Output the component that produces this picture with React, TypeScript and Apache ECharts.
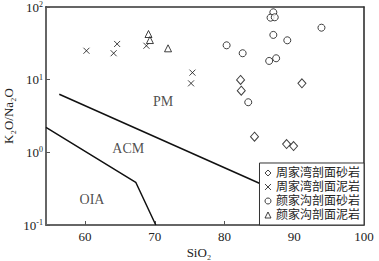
import React, { useEffect, useRef } from "react";
import * as echarts from "echarts";

// SiO2 (wt%) vs K2O/Na2O
const zhouSandstone: [number, number][] = [
  [82.3, 9.9], [82.4, 7.05], [91.1, 8.9], [84.3, 1.64], [88.9, 1.3], [89.9, 1.22],
];
const zhouMudstone: [number, number][] = [
  [60.2, 25.0], [64.1, 23.1], [64.6, 31.0], [68.8, 29.3], [75.4, 12.5], [75.2, 8.9],
];
const yanSandstone: [number, number][] = [
  [87.0, 84.6], [86.6, 71.3], [87.2, 72.2], [93.9, 51.9], [87.0, 41.3], [89.0, 34.8],
  [80.3, 29.7], [82.6, 23.1], [86.4, 18.1], [87.4, 19.7], [83.4, 4.89],
];
const yanMudstone: [number, number][] = [
  [69.1, 42.5], [69.3, 35.1], [71.9, 27.0],
];

const seriesNames = ["周家湾剖面砂岩", "周家湾剖面泥岩", "颜家沟剖面砂岩", "颜家沟剖面泥岩"];

// field boundaries
const boundaryPMACM: [number, number][] = [[56.3, 6.29], [85.8, 0.347]];
const boundaryACMOIA: [number, number][] = [[54.4, 2.2], [67.27, 0.387], [70.14, 0.1]];

// field names
const zoneNames = ["PM", "ACM", "OIA"];
const zoneX = [71.2, 66.2, 61.0];
const zoneY = [4.93, 1.147, 0.221];

const xTicks = [60, 70, 80, 90, 100];

const SERIF = "'Liberation Serif', 'Times New Roman', 'DejaVu Serif', serif";
const CJK = "'Liberation Serif', 'Noto Sans CJK SC', serif";

export default function App() {
  const ref = useRef<HTMLDivElement>(null);
  useEffect(() => {
    if (!ref.current) return;
    const chart = echarts.init(ref.current, undefined, { renderer: "svg" });
    const markerStyle = { color: "#fff", borderColor: "#111", borderWidth: 1 };
    chart.setOption({
      animation: false,
      backgroundColor: "#fff",
      grid: { left: 46, right: 15, top: 7, bottom: 36, outerBoundsMode: "none", containLabel: false },
      xAxis: [
        {
          type: "value",
          min: 54.4,
          max: 100,
          position: "bottom",
          name: "SiO₂",
          nameLocation: "middle",
          nameGap: 21,
          nameMoveOverlap: false,
          nameTextStyle: { fontFamily: SERIF, fontSize: 13, color: "#222", padding: [0, 12, 0, 0] },
          axisLine: { show: true, lineStyle: { color: "#666", width: 2 } },
          axisTick: { show: true, inside: true, length: 4, lineStyle: { color: "#555" }, customValues: xTicks },
          axisLabel: { fontFamily: SERIF, fontSize: 13, color: "#222", margin: 5, customValues: xTicks },
          splitLine: { show: false },
        },
        {
          type: "value",
          min: 54.4,
          max: 100,
          position: "top",
          axisLine: { show: true, lineStyle: { color: "#333", width: 1.5 } },
          axisTick: { show: false },
          axisLabel: { show: false },
          splitLine: { show: false },
        },
      ],
      yAxis: [
        {
          type: "log",
          logBase: 10,
          min: 0.1,
          max: 100,
          position: "left",
          name: "K₂O/Na₂O",
          nameLocation: "middle",
          nameRotate: 90,
          nameGap: 31,
          nameMoveOverlap: false,
          nameTextStyle: { fontFamily: SERIF, fontSize: 13, color: "#222" },
          axisLine: { show: true, lineStyle: { color: "#666", width: 2 } },
          axisTick: { show: true, inside: true, length: 4, lineStyle: { color: "#555" } },
          axisLabel: {
            margin: 3,
            formatter: (v: number) => `{b|10}{s|${Math.round(Math.log10(v))}}`,
            rich: {
              b: { fontFamily: SERIF, fontSize: 13, color: "#222" },
              s: { fontFamily: SERIF, fontSize: 8, color: "#222", verticalAlign: "top" },
            },
          },
          splitLine: { show: false },
          minorTick: { show: false },
        },
        {
          type: "log",
          logBase: 10,
          min: 0.1,
          max: 100,
          position: "right",
          axisLine: { show: true, lineStyle: { color: "#222", width: 1.5 } },
          axisTick: { show: false },
          axisLabel: { show: false },
          splitLine: { show: false },
        },
      ],
      legend: {
        data: seriesNames,
        orient: "vertical",
        right: 15,
        bottom: 36,
        padding: [4, 4, 4, 5],
        itemWidth: 6,
        itemHeight: 6,
        itemGap: 2,
        itemStyle: { borderWidth: 1 },
        backgroundColor: "#fff",
        borderColor: "#333",
        borderWidth: 1,
        textStyle: { fontFamily: CJK, fontSize: 12, lineHeight: 12, color: "#222" },
      },
      series: [
        {
          name: seriesNames[0],
          type: "scatter",
          symbol: "diamond",
          symbolSize: [8, 9],
          itemStyle: markerStyle,
          data: zhouSandstone,
          z: 5,
        },
        {
          name: seriesNames[1],
          type: "scatter",
          symbol: "path://M0,0L10,10M10,0L0,10",
          symbolSize: 6,
          itemStyle: { color: "#111", borderColor: "#111", borderWidth: 1 },
          data: zhouMudstone,
          z: 5,
        },
        {
          name: seriesNames[2],
          type: "scatter",
          symbol: "circle",
          symbolSize: 7,
          itemStyle: markerStyle,
          data: yanSandstone,
          z: 5,
        },
        {
          name: seriesNames[3],
          type: "scatter",
          symbol: "triangle",
          symbolSize: 7,
          itemStyle: markerStyle,
          data: yanMudstone,
          z: 5,
        },
        {
          type: "line",
          data: boundaryPMACM,
          symbol: "none",
          lineStyle: { color: "#111", width: 1.5 },
          silent: true,
          z: 3,
        },
        {
          type: "line",
          data: boundaryACMOIA,
          symbol: "none",
          lineStyle: { color: "#111", width: 1.5 },
          silent: true,
          z: 3,
        },
        {
          type: "scatter",
          symbolSize: 0,
          silent: true,
          data: zoneNames.map((n, i) => ({ name: n, value: [zoneX[i], zoneY[i]] })),
          label: {
            show: true,
            position: "inside",
            formatter: (p: any) => p.name,
            fontFamily: SERIF,
            fontSize: 14,
            color: "#222",
          },
          z: 4,
        },
      ],
    });
    return () => chart.dispose();
  }, []);
  return (
    <div
      ref={ref}
      style={{ position: "fixed", left: 0, top: 0, width: 379, height: 261 }}
    />
  );
}
